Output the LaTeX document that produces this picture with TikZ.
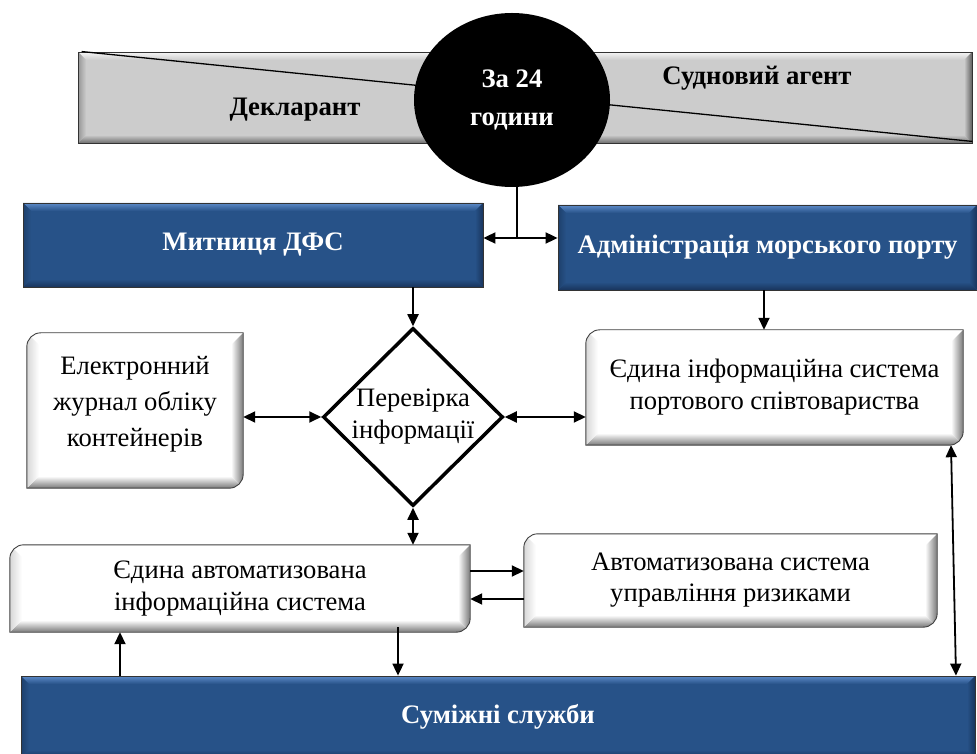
\documentclass[tikz,border=0pt]{standalone}
\usepackage{fontspec}
\setmainfont{Liberation Serif}
\usetikzlibrary{arrows.meta,shapes.geometric,calc}
\pgfdeclarelayer{background}
\pgfsetlayers{background,main}
\definecolor{bmain}{RGB}{39,82,136}
\definecolor{bhi}{RGB}{92,138,200}
\definecolor{blo}{RGB}{24,52,92}
\definecolor{bleft}{RGB}{30,64,108}
\definecolor{gmain}{RGB}{204,204,204}
\definecolor{ghi}{RGB}{245,245,245}
\definecolor{glo}{RGB}{110,110,110}
\definecolor{gright}{RGB}{95,95,95}
\definecolor{gleft}{RGB}{150,150,150}
\definecolor{wlo}{RGB}{120,120,120}
\definecolor{wleft}{RGB}{215,215,215}
\newcommand\bevelpic[6]{%
 \fill[#1] (path picture bounding box.south west) rectangle (path picture bounding box.north east);
 \shade[top color=#2,bottom color=#1] (path picture bounding box.north west) -- (path picture bounding box.north east) -- ([shift={(-#6,-#6)}]path picture bounding box.north east) -- ([shift={(#6,-#6)}]path picture bounding box.north west) -- cycle;
 \shade[top color=#1,bottom color=#3] ([shift={(#6,#6)}]path picture bounding box.south west) -- ([shift={(-#6,#6)}]path picture bounding box.south east) -- (path picture bounding box.south east) -- (path picture bounding box.south west) -- cycle;
 \shade[left color=#1,right color=#4] ([shift={(-#6,-#6)}]path picture bounding box.north east) -- (path picture bounding box.north east) -- (path picture bounding box.south east) -- ([shift={(-#6,#6)}]path picture bounding box.south east) -- cycle;
 \shade[left color=#5,right color=#1] (path picture bounding box.north west) -- ([shift={(#6,-#6)}]path picture bounding box.north west) -- ([shift={(#6,#6)}]path picture bounding box.south west) -- (path picture bounding box.south west) -- cycle;
}
\newcommand\rdshape[1]{%
 \begin{pgfonlayer}{background}
 \path[draw=black!75, line width=0.9, path picture={\bevelpic{white}{white}{wlo}{wlo}{wleft}{12}}]
  (#1.south west) -- ([yshift=-14]#1.north west) arc[start angle=180,end angle=90,radius=14pt]
  -- (#1.north east) -- ([yshift=14]#1.south east) arc[start angle=0,end angle=-90,radius=14pt] -- cycle;
 \end{pgfonlayer}}
\tikzset{
 bbox/.style={rectangle, inner sep=0, draw=black!80, line width=0.8, text=white,
   font=\fontsize{26.7}{32}\selectfont\bfseries,
   path picture={\bevelpic{bmain}{bhi}{blo}{blo}{bleft}{8}}},
 gbox/.style={rectangle, inner sep=0, draw=black!80, line width=0.9,
   path picture={\bevelpic{gmain}{ghi}{glo}{gright}{gleft}{8}}},
 wbox/.style={rectangle, inner sep=0, align=center, font=\fontsize{26.6}{32}\selectfont},
 btxt/.style={font=\fontsize{26.7}{32}\selectfont\bfseries, inner sep=0},
 arr/.style={-{Triangle[length=12pt,width=11pt]}, line width=1.8},
 arr2/.style={{Triangle[length=12pt,width=11pt]}-{Triangle[length=12pt,width=11pt]}, line width=1.8},
}
\begin{document}
\begin{tikzpicture}[x=1pt,y=1pt]
\useasboundingbox (0,0) rectangle (977,753);
% top bar
\node[gbox, minimum width=894, minimum height=91] (bar) at (525,655.5) {};
\draw[line width=1.3] ([xshift=4]bar.north west) -- ([yshift=2]bar.south east);
\node[btxt] (dec) at (295,643) {Декларант};
\node[btxt] (agent) at (757,675) {Судновий агент};
\node[ellipse, fill=black, minimum width=196, minimum height=174, inner sep=0,
  text=white, align=center, font=\fontsize{26.7}{38}\selectfont\bfseries] (c) at (512,653) {За 24\\години};
\coordinate (j) at (517,515);
% blue boxes
\node[bbox, minimum width=460, minimum height=84] (m) at (253,508) {Митниця ДФС};
\node[bbox, minimum width=419, minimum height=85] (a) at (767.5,505.5) {Адміністрація морського порту};
% diamond
\node[diamond, draw, fill=white, line width=3.5, minimum width=180, minimum height=178, inner sep=0,
  align=center, font=\fontsize{26.6}{32}\selectfont] (d) at (413,336) {Перевірка\\інформації};
% white boxes
\node[wbox, font=\fontsize{26.6}{36}\selectfont, minimum width=216, minimum height=155] (e) at (135,342.5) {Електронний\\журнал обліку\\контейнерів\\[-18pt]};
\rdshape{e}
\node[wbox, minimum width=377, minimum height=115] (p) at (774.5,365.5) {Єдина інформаційна система\\портового співтовариства};
\rdshape{p}
\node[wbox, minimum width=460, minimum height=87] (s) at (240,164.5) {Єдина автоматизована\\інформаційна система};
\rdshape{s}
\node[wbox, font=\fontsize{26.6}{31}\selectfont, minimum width=413, minimum height=93] (r) at (730.5,172.5) {Автоматизована система\\управління ризиками};
\rdshape{r}
% bottom bar
\node[bbox, minimum width=954, minimum height=82] (z) at (498,36) {Суміжні служби};
% connectors
\draw[line width=1.3] (c.south -| j) -- (j);
\draw[arr2] (m.east |- j) -- (a.west |- j);
\draw[arr] (m.south -| d.north) -- (d.north);
\coordinate (ax) at (764,0);
\draw[arr] (a.south -| ax) -- (p.north -| ax);
\draw[arr2] (e.east |- d.west) -- (d.west);
\draw[arr2] (d.east) -- (p.west |- d.east);
\draw[arr2] (d.south) -- (s.north -| d.south);
\coordinate (y1) at (0,182);
\coordinate (y2) at (0,154);
\draw[arr] (s.east |- y1) -- (r.west |- y1);
\draw[arr] (r.west |- y2) -- (s.east |- y2);
\coordinate (x1) at (120,0);
\coordinate (x2) at (398,0);
\draw[arr] (z.north -| x1) -- (s.south -| x1);
\draw[arr] ([yshift=5]s.south -| x2) -- (z.north -| x2);
\coordinate (q1) at (951,0);
\coordinate (q2) at (956,0);
\draw[arr2] (p.south -| q1) -- (z.north -| q2);
\end{tikzpicture}
\end{document}
